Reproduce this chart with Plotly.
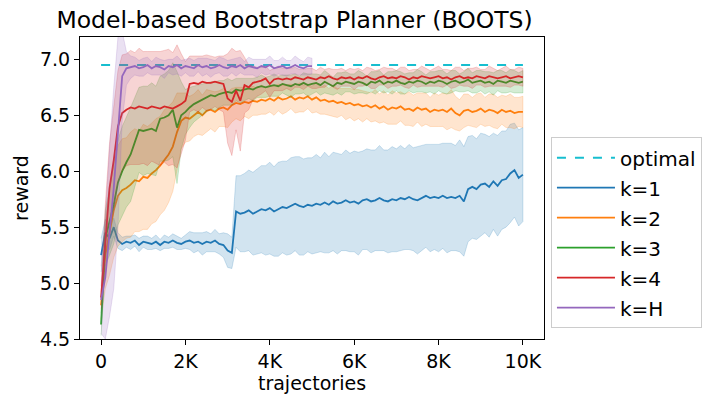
import plotly.graph_objects as go

# sample grid (trajectories)
steps = list(range(0, 10001, 100))
steps_h = list(range(0, 5001, 100))

optimal_value = 6.95

k1_mean = [5.25, 5.45, 5.40, 5.50, 5.38, 5.35, 5.37, 5.36, 5.38, 5.34,
           5.37, 5.36, 5.35, 5.37, 5.34, 5.37, 5.36, 5.38, 5.36, 5.35,
           5.37, 5.38, 5.36, 5.37, 5.35, 5.37, 5.36, 5.38, 5.35, 5.34,
           5.29, 5.27, 5.64, 5.62, 5.63, 5.65, 5.62, 5.64, 5.66, 5.65,
           5.67, 5.64, 5.66, 5.68, 5.67, 5.69, 5.71, 5.69, 5.68, 5.70,
           5.69, 5.71, 5.70, 5.72, 5.70, 5.73, 5.71, 5.72, 5.74, 5.72,
           5.73, 5.71, 5.74, 5.75, 5.73, 5.74, 5.76, 5.74, 5.73, 5.75,
           5.74, 5.76, 5.75, 5.77, 5.75, 5.74, 5.76, 5.78, 5.76, 5.77,
           5.76, 5.78, 5.76, 5.77, 5.76, 5.78, 5.73, 5.84, 5.86, 5.84,
           5.88, 5.89, 5.86, 5.91, 5.87, 5.92, 5.93, 5.98, 6.01, 5.94,
           5.97]
k1_std = [0.15, 0.12, 0.10, 0.08, 0.07, 0.06, 0.05, 0.06, 0.05, 0.06,
          0.05, 0.06, 0.05, 0.06, 0.05, 0.06, 0.05, 0.06, 0.06, 0.05,
          0.06, 0.08, 0.09, 0.08, 0.10, 0.09, 0.08, 0.10, 0.09, 0.11,
          0.15, 0.14, 0.32, 0.34, 0.35, 0.36, 0.37, 0.38, 0.39, 0.40,
          0.41, 0.40, 0.42, 0.41, 0.42, 0.43, 0.42, 0.44, 0.43, 0.42,
          0.43, 0.44, 0.42, 0.45, 0.43, 0.44, 0.45, 0.43, 0.45, 0.44,
          0.45, 0.46, 0.44, 0.45, 0.46, 0.45, 0.47, 0.45, 0.46, 0.47,
          0.46, 0.47, 0.45, 0.47, 0.46, 0.48, 0.47, 0.46, 0.48, 0.47,
          0.48, 0.47, 0.49, 0.48, 0.47, 0.50, 0.49, 0.47, 0.46, 0.45,
          0.46, 0.44, 0.45, 0.43, 0.45, 0.44, 0.43, 0.44, 0.42, 0.43,
          0.42]

k2_mean = [4.80, 5.25, 5.45, 5.65, 5.78, 5.83, 5.85, 5.88, 5.92, 5.91,
           5.95, 5.94, 5.98, 6.01, 6.05, 6.10, 6.15, 6.22, 6.35, 6.45,
           6.48, 6.47, 6.50, 6.53, 6.50, 6.54, 6.55, 6.53, 6.56, 6.57,
           6.55, 6.59, 6.61, 6.60, 6.62, 6.61, 6.63, 6.62, 6.64, 6.63,
           6.65, 6.63, 6.66, 6.64, 6.65, 6.67, 6.64, 6.66, 6.65, 6.67,
           6.64, 6.66, 6.63, 6.64, 6.62, 6.63, 6.61, 6.62, 6.60, 6.61,
           6.59, 6.60, 6.58, 6.59, 6.57, 6.59, 6.56, 6.58, 6.55, 6.57,
           6.56, 6.58, 6.55, 6.56, 6.54, 6.57, 6.55, 6.56, 6.53, 6.55,
           6.54, 6.55, 6.53, 6.56, 6.52, 6.50, 6.54, 6.55, 6.53, 6.54,
           6.56, 6.53, 6.55, 6.54, 6.52, 6.55, 6.53, 6.54, 6.52, 6.53,
           6.53]
k2_std = [0.12, 0.30, 0.38, 0.42, 0.45, 0.46, 0.45, 0.47, 0.46, 0.45,
          0.47, 0.46, 0.45, 0.46, 0.44, 0.45, 0.43, 0.40, 0.35, 0.25,
          0.22, 0.20, 0.19, 0.20, 0.18, 0.19, 0.17, 0.18, 0.16, 0.17,
          0.16, 0.15, 0.14, 0.15, 0.13, 0.14, 0.13, 0.12, 0.13, 0.12,
          0.12, 0.13, 0.12, 0.13, 0.12, 0.11, 0.12, 0.13, 0.12, 0.11,
          0.12, 0.13, 0.12, 0.13, 0.12, 0.14, 0.13, 0.12, 0.14, 0.13,
          0.14, 0.13, 0.14, 0.12, 0.13, 0.14, 0.13, 0.14, 0.13, 0.15,
          0.14, 0.13, 0.14, 0.15, 0.14, 0.13, 0.15, 0.14, 0.13, 0.15,
          0.14, 0.15, 0.16, 0.17, 0.15, 0.14, 0.15, 0.14, 0.13, 0.15,
          0.14, 0.13, 0.14, 0.15, 0.14, 0.13, 0.14, 0.15, 0.14, 0.13,
          0.14]

k3_mean = [4.63, 5.40, 5.55, 5.70, 5.90, 6.00, 6.08, 6.15, 6.26, 6.37,
           6.36, 6.37, 6.38, 6.36, 6.47, 6.48, 6.50, 6.55, 6.39, 6.50,
           6.53, 6.57, 6.60, 6.62, 6.64, 6.66, 6.68, 6.67, 6.69, 6.70,
           6.71, 6.70, 6.73, 6.72, 6.73, 6.74, 6.73, 6.75, 6.76, 6.75,
           6.76, 6.77, 6.76, 6.78, 6.77, 6.76, 6.78, 6.77, 6.79, 6.77,
           6.78, 6.79, 6.77, 6.80, 6.78, 6.76, 6.79, 6.78, 6.80, 6.79,
           6.78, 6.80, 6.79, 6.77, 6.80, 6.79, 6.81, 6.78, 6.80, 6.79,
           6.81, 6.79, 6.78, 6.80, 6.79, 6.81, 6.80, 6.78, 6.80, 6.79,
           6.81, 6.80, 6.78, 6.80, 6.81, 6.79, 6.80, 6.82, 6.79, 6.80,
           6.81, 6.79, 6.80, 6.78, 6.81, 6.80, 6.79, 6.81, 6.80, 6.79,
           6.80]
k3_std = [0.10, 0.25, 0.30, 0.35, 0.38, 0.40, 0.40, 0.42, 0.40, 0.38,
          0.40, 0.39, 0.41, 0.40, 0.38, 0.39, 0.40, 0.42, 0.50, 0.30,
          0.20, 0.18, 0.16, 0.15, 0.14, 0.13, 0.12, 0.13, 0.12, 0.11,
          0.12, 0.11, 0.10, 0.11, 0.10, 0.09, 0.10, 0.09, 0.10, 0.09,
          0.09, 0.10, 0.09, 0.08, 0.09, 0.10, 0.09, 0.08, 0.09, 0.10,
          0.09, 0.08, 0.09, 0.10, 0.09, 0.08, 0.09, 0.10, 0.09, 0.08,
          0.09, 0.10, 0.09, 0.08, 0.09, 0.10, 0.09, 0.08, 0.09, 0.10,
          0.09, 0.10, 0.09, 0.08, 0.09, 0.10, 0.09, 0.08, 0.09, 0.10,
          0.09, 0.10, 0.09, 0.10, 0.09, 0.08, 0.09, 0.10, 0.09, 0.10,
          0.09, 0.10, 0.09, 0.10, 0.09, 0.10, 0.09, 0.10, 0.10, 0.09,
          0.10]

k4_mean = [4.87, 5.40, 5.85, 6.10, 6.40, 6.52, 6.55, 6.57, 6.56, 6.58,
           6.57, 6.56, 6.58, 6.57, 6.56, 6.58, 6.57, 6.56, 6.58, 6.60,
           6.63, 6.78, 6.79, 6.78, 6.80, 6.79, 6.79, 6.80, 6.79, 6.78,
           6.65, 6.62, 6.72, 6.63, 6.77, 6.75, 6.79, 6.80, 6.81, 6.83,
           6.78, 6.82, 6.83, 6.82, 6.83, 6.82, 6.84, 6.83, 6.82, 6.84,
           6.83, 6.82, 6.84, 6.83, 6.85, 6.83, 6.82, 6.84, 6.83, 6.84,
           6.82, 6.84, 6.83, 6.85, 6.83, 6.82, 6.84, 6.85, 6.83, 6.84,
           6.83, 6.85, 6.84, 6.82, 6.84, 6.83, 6.85, 6.84, 6.83, 6.84,
           6.85, 6.83, 6.84, 6.82, 6.84, 6.85, 6.83, 6.84, 6.83, 6.85,
           6.84, 6.83, 6.85, 6.84, 6.83, 6.84, 6.85, 6.83, 6.84, 6.85,
           6.84]
k4_std = [0.10, 0.30, 0.40, 0.45, 0.50, 0.52, 0.50, 0.51, 0.50, 0.52,
          0.50, 0.51, 0.49, 0.50, 0.51, 0.50, 0.52, 0.50, 0.55, 0.45,
          0.35, 0.25, 0.24, 0.25, 0.23, 0.25, 0.24, 0.22, 0.24, 0.25,
          0.40, 0.48, 0.35, 0.45, 0.25, 0.20, 0.15, 0.13, 0.12, 0.11,
          0.12, 0.10, 0.11, 0.10, 0.09, 0.10, 0.09, 0.08, 0.09, 0.08,
          0.09, 0.08, 0.09, 0.08, 0.07, 0.08, 0.09, 0.08, 0.07, 0.08,
          0.09, 0.08, 0.07, 0.08, 0.09, 0.08, 0.07, 0.08, 0.09, 0.08,
          0.07, 0.08, 0.09, 0.08, 0.07, 0.08, 0.09, 0.08, 0.07, 0.08,
          0.09, 0.08, 0.07, 0.08, 0.09, 0.08, 0.07, 0.08, 0.09, 0.08,
          0.07, 0.08, 0.09, 0.08, 0.07, 0.08, 0.09, 0.08, 0.07, 0.08,
          0.08]

kH_mean = [4.85, 5.05, 5.45, 5.85, 6.35, 6.85, 6.92, 6.93, 6.94, 6.92,
           6.93, 6.95, 6.92, 6.94, 6.93, 6.91, 6.94, 6.93, 6.95, 6.92,
           6.94, 6.93, 6.92, 6.95, 6.93, 6.94, 6.92, 6.93, 6.95, 6.93,
           6.92, 6.94, 6.93, 6.95, 6.92, 6.94, 6.93, 6.92, 6.94, 6.93,
           6.95, 6.92, 6.93, 6.94, 6.92, 6.93, 6.95, 6.93, 6.92, 6.94,
           6.94]
kH_std = [0.30, 0.55, 0.75, 0.90, 0.85, 0.40, 0.15, 0.10, 0.08, 0.07,
          0.08, 0.07, 0.06, 0.08, 0.07, 0.08, 0.06, 0.07, 0.08, 0.07,
          0.06, 0.08, 0.07, 0.06, 0.08, 0.07, 0.08, 0.06, 0.07, 0.08,
          0.07, 0.06, 0.08, 0.07, 0.06, 0.08, 0.07, 0.08, 0.06, 0.07,
          0.08, 0.07, 0.06, 0.08, 0.07, 0.06, 0.08, 0.07, 0.06, 0.08,
          0.07]

x_ticks = [0, 2000, 4000, 6000, 8000, 10000]
x_tick_labels = ['0', '2K', '4K', '6K', '8K', '10K']
y_ticks = [4.5, 5.0, 5.5, 6.0, 6.5, 7.0]
y_tick_labels = ['4.5', '5.0', '5.5', '6.0', '6.5', '7.0']

# (name, x, mean, std, line colour, band colour)
series = [
    ('k=1', steps, k1_mean, k1_std, '#1f77b4', 'rgba(31,119,180,0.2)'),
    ('k=2', steps, k2_mean, k2_std, '#ff7f0e', 'rgba(255,127,14,0.2)'),
    ('k=3', steps, k3_mean, k3_std, '#2ca02c', 'rgba(44,160,44,0.2)'),
    ('k=4', steps, k4_mean, k4_std, '#d62728', 'rgba(214,39,40,0.2)'),
    ('k=H', steps_h, kH_mean, kH_std, '#9467bd', 'rgba(148,103,189,0.2)'),
]

FONT = 'DejaVu Sans'

fig = go.Figure()

fig.add_trace(go.Scatter(x=[steps[0], steps[-1]], y=[optimal_value, optimal_value],
                         mode='lines', name='optimal', legendgroup='optimal',
                         line=dict(color='#17becf', width=2, dash='dash')))

for name, xs, mean, std, color, band in series:
    upper = [m + s for m, s in zip(mean, std)]
    lower = [m - s for m, s in zip(mean, std)]
    # shaded band: upper edge forward, lower edge back
    fig.add_trace(go.Scatter(x=xs + xs[::-1], y=upper + lower[::-1],
                             fill='toself', fillcolor=band,
                             line=dict(color=band, width=1),
                             mode='lines', hoverinfo='skip', showlegend=False))
    fig.add_trace(go.Scatter(x=xs, y=mean, mode='lines', name=name, legendgroup=name,
                             line=dict(color=color, width=1.8)))

axis_common = dict(showline=True, linecolor='black', linewidth=1, mirror=True,
                   ticks='outside', ticklen=5, tickwidth=1, tickcolor='black',
                   showgrid=False, zeroline=False, automargin=False,
                   tickfont=dict(family=FONT, size=19, color='black'))

fig.update_xaxes(range=[-500, 10500], tickvals=x_ticks, ticktext=x_tick_labels,
                 title=dict(text='trajectories', font=dict(family=FONT, size=19, color='black'),
                            standoff=4),
                 **axis_common)
fig.update_yaxes(range=[4.5, 7.2], tickvals=y_ticks, ticktext=y_tick_labels,
                 title=dict(text='reward', font=dict(family=FONT, size=19, color='black'),
                            standoff=6),
                 **axis_common)

fig.update_layout(
    width=715, height=404,
    margin=dict(l=80, r=171, t=37, b=65),
    paper_bgcolor='white', plot_bgcolor='white',
    title=dict(text='Model-based Bootstrap Planner (BOOTS)',
               font=dict(family=FONT, size=23.5, color='black'),
               x=0.412, xanchor='center', y=0.95, yanchor='middle', automargin=False),
    legend=dict(x=1.015, xanchor='left', y=0.352, yanchor='middle',
                bordercolor='#cccccc', borderwidth=1, bgcolor='white',
                font=dict(family=FONT, size=20, color='black'),
                itemwidth=58, tracegroupgap=1),
    showlegend=True,
)

# drop the page's default body margin so the figure sits at the window corner
fig.write_html("out.html", config={'displayModeBar': False},
               post_script="document.body.style.margin='0px';")
